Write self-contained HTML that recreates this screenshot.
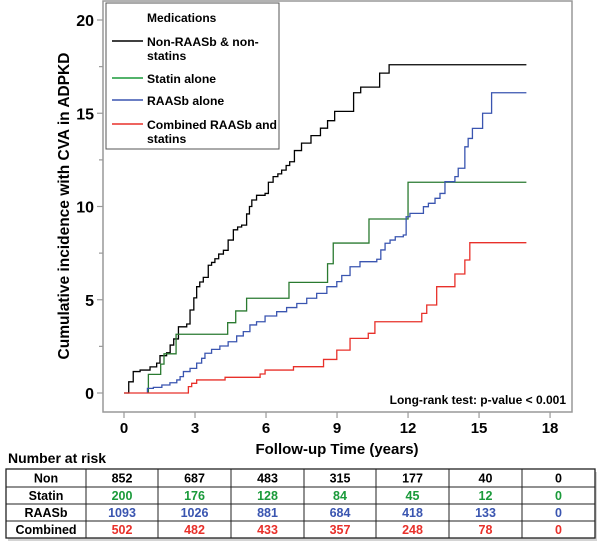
<!DOCTYPE html>
<html><head><meta charset="utf-8"><style>
body{margin:0;background:#fff;width:600px;height:547px;overflow:hidden;font-family:"Liberation Sans",Arial,sans-serif;}
svg text{font-family:"Liberation Sans",Arial,sans-serif;font-weight:bold;}
</style></head><body>
<svg id="chart" width="600" height="547" viewBox="0 0 600 547">
<g id="plot"></g>
</svg>
<script>
const xTicks=[0,3,6,9,12,15,18];
const yTicks=[0,5,10,15,20];
const nonT=[0,0.2,0.39,0.68,1.1,1.38,1.52,1.8,1.95,2.1,2.3,2.65,2.79,2.95,3.07,3.2,3.35,3.56,3.7,3.84,4.0,4.2,4.4,4.62,4.8,4.97,5.18,5.3,5.4,5.6,5.96,6.1,6.3,6.5,6.66,6.85,7.0,7.2,7.5,7.9,8.3,8.6,8.9,9.7,10.0,10.8,11.2,17];
const nonV=[0,0.6,1.15,1.23,1.4,1.6,2.0,2.16,2.57,2.9,3.55,3.7,4.45,5.1,5.7,5.95,6.2,6.85,7.0,7.2,7.45,7.65,8.2,8.75,8.9,9.0,9.6,10.0,10.35,10.6,10.7,11.3,11.6,11.75,11.95,12.2,12.4,13.0,13.4,13.8,14.2,14.6,15.1,16.1,16.4,17.15,17.6,17.6];
const statT=[1.03,1.03,1.55,1.69,2.2,4.38,4.72,5.18,6.97,8.6,8.84,10.35,12.0,17];
const statV=[0,1.0,1.55,2.1,3.15,3.77,4.4,5.08,5.93,6.93,8.04,9.33,11.3,11.3];
const raasT=[0.99,0.99,1.24,1.6,1.94,2.23,2.37,2.51,2.79,3.07,3.28,3.42,3.7,4.05,4.4,4.76,5.04,5.32,5.6,5.96,6.45,6.87,7.3,7.72,8.14,8.57,8.99,9.2,9.55,9.97,10.68,10.85,11.03,11.24,11.46,11.8,11.92,12.08,12.65,12.86,13.14,13.35,13.56,13.98,14.12,14.4,14.54,14.72,15.15,15.53,17];
const raasV=[0,0.25,0.3,0.43,0.55,0.7,0.88,1.15,1.32,1.6,1.86,2.13,2.34,2.52,2.75,3.06,3.29,3.65,3.82,4.13,4.36,4.58,4.8,5.08,5.34,5.7,5.97,6.3,6.77,7.04,7.17,7.67,8.03,8.2,8.38,8.47,9.45,9.63,9.99,10.17,10.44,10.7,11.33,11.6,12.05,13.2,13.65,14.19,15.0,16.1,16.1];
const combT=[0,2.72,2.86,3.07,4.27,5.75,5.96,7.16,8.43,8.99,9.55,10.32,10.6,12.58,12.79,13.21,13.98,14.4,14.61,17];
const combV=[0,0.34,0.52,0.7,0.84,1.02,1.23,1.41,1.8,2.3,2.93,3.2,3.82,4.27,4.72,5.7,6.38,7.13,8.06,8.06];
const riskLabels=["Non","Statin","RAASb","Combined"];
const riskNon=[852,687,483,315,177,40,0];
const riskStat=[200,176,128,84,45,12,0];
const riskRaas=[1093,1026,881,684,418,133,0];
const riskComb=[502,482,433,357,248,78,0];

const NS="http://www.w3.org/2000/svg";
const g=document.getElementById('plot');
function X(t){return 124+t*23.67;}
function Y(v){return 393-v*18.65;}
function mk(tag,attrs,parent){const e=document.createElementNS(NS,tag);for(const k in attrs)e.setAttribute(k,attrs[k]);(parent||g).appendChild(e);return e;}

const frame=mk('rect',{x:103,y:1,width:469,height:411,fill:'none',stroke:'#999','stroke-width':1.5});


xTicks.forEach(t=>{
  const l=mk('line',{x1:X(t),x2:X(t),y1:412,y2:418,stroke:'#999','stroke-width':1.2});
  
  
  const tx=mk('text',{x:X(t),y:433,'text-anchor':'middle','font-size':15});
  tx.textContent=t;
  
  
});
yTicks.forEach(v=>{
  const l=mk('line',{x1:97,x2:103,y1:Y(v),y2:Y(v),stroke:'#999','stroke-width':1.2});
  
  
  if(v<20){const m=mk('line',{x1:99,x2:103,y1:Y(v+2.5),y2:Y(v+2.5),stroke:'#999','stroke-width':1.2});
  
  }
  const tx=mk('text',{x:94,y:Y(v)+6,'text-anchor':'end','font-size':16});
  tx.textContent=v;
  
  
});
const yt=mk('text',{x:0,y:0,'text-anchor':'middle','font-size':15.5,transform:'translate(69,206) rotate(-90)'});
yt.textContent='Cumulative incidence with CVA in ADPKD';


const xt=mk('text',{x:337,y:454,'text-anchor':'middle','font-size':15});
xt.textContent='Follow-up Time (years)';



function stepPath(T,V){let d='M'+X(T[0])+','+Y(V[0]);for(let i=1;i<T.length;i++){d+=' H'+X(T[i])+' V'+Y(V[i]);}return d;}
const series=[[nonT,nonV,'#000','curve-non'],[statT,statV,'#2a7a30','curve-statin'],[raasT,raasV,'#3a55b0','curve-raasb'],[combT,combV,'#e8302a','curve-combined']];
series.forEach(s=>{
  const p=mk('path',{d:stepPath(s[0],s[1]),fill:'none',stroke:s[2],'stroke-width':1.3});
  
  
});

const lg=mk('g',{});


mk('rect',{x:106,y:3,width:173,height:146,fill:'#fff',stroke:'#555','stroke-width':1},lg);
const lt=mk('text',{x:147,y:22,'font-size':12},lg);lt.textContent='Medications';


const entries=[['#000',41,['Non-RAASb & non-','statins']],['#1a9a3a',78,['Statin alone']],['#3a55b0',100,['RAASb alone']],['#e8302a',124,['Combined RAASb and','statins']]];
entries.forEach(e=>{
  const eg=mk('g',{},lg);
  
  
  mk('line',{x1:112,x2:143,y1:e[1],y2:e[1],stroke:e[0],'stroke-width':1.5},eg);
  e[2].forEach((s,i)=>{const t=mk('text',{x:147,y:e[1]+5+i*14,'font-size':12.2},eg);t.textContent=s;});
});
const lr=mk('text',{x:566,y:404,'text-anchor':'end','font-size':12});
lr.textContent='Long-rank test: p-value < 0.001';



const nr=mk('text',{x:8,y:463,'font-size':14});nr.textContent='Number at risk';


const tb=mk('g',{});


mk('rect',{x:8,y:472,width:589,height:69,fill:'#aaa',opacity:0.5},tb);
mk('rect',{x:6,y:469,width:589,height:69,fill:'#fff',stroke:'#222','stroke-width':1.3},tb);
const rowY=[469,487,504,521,538];
const colX=[6,86,158,231,304,376,449,522,595];
for(let i=1;i<4;i++)mk('line',{x1:6,x2:595,y1:rowY[i],y2:rowY[i],stroke:'#222','stroke-width':1},tb);
for(let j=1;j<8;j++)mk('line',{x1:colX[j],x2:colX[j],y1:469,y2:538,stroke:'#222','stroke-width':1},tb);
const rows=[riskNon,riskStat,riskRaas,riskComb];
const rowCol=['#000','#1a9a3a','#3a55b0','#e8302a'];
rows.forEach((r,i)=>{
  const cy=(rowY[i]+rowY[i+1])/2+4.5;
  const lab=mk('text',{x:(colX[0]+colX[1])/2,y:cy,'text-anchor':'middle','font-size':12.5},tb);
  lab.textContent=riskLabels[i];
  r.forEach((v,j)=>{
    const c=mk('text',{x:(colX[j+1]+colX[j+2])/2,y:cy,'text-anchor':'middle','font-size':12.5,fill:rowCol[i]},tb);
    c.textContent=v;
    
    
  });
});
</script>
</body></html>
